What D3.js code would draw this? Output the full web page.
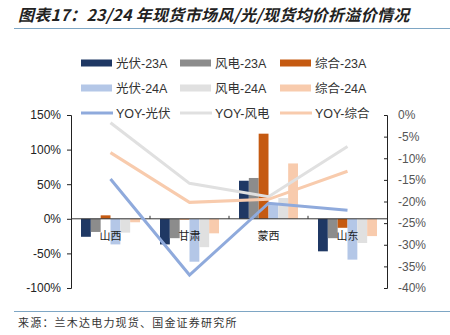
<!DOCTYPE html>
<html>
<head>
<meta charset="utf-8">
<style>
  body { margin: 0; background: #fff; }
  text { font-family: "Liberation Sans", Arial, "Noto Sans CJK SC", sans-serif; }
  .cjk { font-family: "Noto Sans CJK SC", sans-serif; }
</style>
</head>
<body>
<svg id="svg" width="450" height="335"></svg>
<script src="https://cdnjs.cloudflare.com/ajax/libs/d3/7.8.5/d3.min.js"></script>
<script>
// regions on the category axis
const regions = ['山西', '甘肃', '蒙西', '山东']

// bar series (left axis, %)
const barSeries = ['光伏-23A', '风电-23A', '综合-23A', '光伏-24A', '风电-24A', '综合-24A']
const pv23 = [-26, -37, 55, -47]
const wind23 = [-19, -28, 59, -28]
const mix23 = [5, -1, 123, -13]
const pv24 = [-37, -62, 22, -59]
const wind24 = [-20, -41, 30, -35]
const mix24 = [-5, -21, 80, -25]

// yoy lines (right axis, %)
const lineSeries = ['YOY-光伏', 'YOY-风电', 'YOY-综合']
const yoyPv = [-14.8, -37, -20.4, -22]
const yoyWind = [-1.8, -15.8, -18.9, -7.3]
const yoyMix = [-8.7, -20.2, -19.5, -13]

const leftTicks = [150, 100, 50, 0, -50, -100]
const rightTicks = [0, -5, -10, -15, -20, -25, -30, -35, -40]

const barColors = ['#1f3864', '#8c8c8c', '#c55a11', '#b4c7e7', '#e0e0e0', '#f8cbad']
const lineColors = ['#8faadc', '#e0e0e0', '#f8cbad']

const barData = [pv23, wind23, mix23, pv24, wind24, mix24]
const lineData = [yoyPv, yoyWind, yoyMix]

const svg = d3.select('#svg')

// title + rules
svg.append('text')
  .attr('class', 'cjk')
  .attr('x', 18).attr('y', 21)
  .attr('font-size', 16).attr('font-weight', 'bold').attr('font-style', 'italic')
  .attr('letter-spacing', 0.3)
  .attr('fill', '#222')
  .text('图表17：23/24 年现货市场风/光/现货均价折溢价情况')
svg.append('line').attr('x1', 14).attr('x2', 450).attr('y1', 28.5).attr('y2', 28.5)
  .attr('stroke', '#7ea6c4').attr('stroke-width', 1)
svg.append('line').attr('x1', 14).attr('x2', 450).attr('y1', 311.5).attr('y2', 311.5)
  .attr('stroke', '#7ea6c4').attr('stroke-width', 1)
svg.append('text')
  .attr('class', 'cjk')
  .attr('x', 18).attr('y', 327)
  .attr('font-size', 11).attr('letter-spacing', 1.2).attr('fill', '#333')
  .text('来源：兰木达电力现货、国金证券研究所')

// scales
const x = d3.scaleBand().domain(regions).range([71, 387])
const xs = d3.scaleBand().domain(barSeries).range([10, 69])
const yL = d3.scaleLinear().domain([-100, 150]).range([288, 115])
const yR = d3.scaleLinear().domain([-40, 0]).range([288, 115])

// bars
barSeries.forEach((s, i) => {
  svg.append('g').selectAll('rect')
    .data(barData[i])
    .join('rect')
    .attr('x', (d, j) => x(regions[j]) + xs(s))
    .attr('width', xs.bandwidth())
    .attr('y', d => Math.min(yL(d), yL(0)))
    .attr('height', d => Math.abs(yL(d) - yL(0)))
    .attr('fill', barColors[i])
})

// left axis
const axL = svg.append('g').attr('transform', 'translate(71,0)')
  .call(d3.axisLeft(yL).tickValues(leftTicks).tickSize(4).tickFormat(d => d + '%'))
axL.select('.domain').attr('stroke', '#222')
axL.selectAll('.tick line').attr('stroke', '#222')
axL.selectAll('.tick text').attr('font-size', 12).attr('fill', '#222').attr('x', -10)
  .attr('font-family', '"Liberation Sans", Arial, sans-serif')

// right axis
const axR = svg.append('g').attr('transform', 'translate(387,0)')
  .call(d3.axisRight(yR).tickValues(rightTicks).tickSize(-3).tickFormat(d => d + '%'))
axR.select('.domain').attr('stroke', '#222')
axR.selectAll('.tick line').attr('stroke', '#222')
axR.selectAll('.tick text').attr('font-size', 12).attr('fill', '#555').attr('x', 11)
  .attr('font-family', '"Liberation Sans", Arial, sans-serif')

// category axis at 0
svg.append('line').attr('x1', 71).attr('x2', 387).attr('y1', yL(0)).attr('y2', yL(0))
  .attr('stroke', '#333').attr('stroke-width', 1)
svg.append('g').selectAll('line')
  .data(regions.slice(1))
  .join('line')
  .attr('x1', d => x(d)).attr('x2', d => x(d))
  .attr('y1', yL(0) - 3).attr('y2', yL(0))
  .attr('stroke', '#333')
svg.append('g').selectAll('text')
  .data(regions)
  .join('text')
  .attr('class', 'cjk')
  .attr('x', d => x(d) + x.bandwidth() / 2)
  .attr('y', yL(0) + 21)
  .attr('text-anchor', 'middle')
  .attr('font-size', 11).attr('fill', '#222')
  .text(d => d)

// yoy lines
const line = d3.line()
  .x((d, j) => x(regions[j]) + x.bandwidth() / 2)
  .y(d => yR(d))
lineData.forEach((vals, i) => {
  svg.append('path')
    .datum(vals)
    .attr('d', line)
    .attr('fill', 'none')
    .attr('stroke', lineColors[i])
    .attr('stroke-width', 3)
})

// legend
const legX = [81, 180, 280]
barSeries.forEach((s, i) => {
  const gx = legX[i % 3]
  const gy = i < 3 ? 63 : 88
  svg.append('rect').attr('x', gx).attr('y', gy - 3.5).attr('width', 31).attr('height', 7)
    .attr('fill', barColors[i])
  svg.append('text').attr('x', gx + 35).attr('y', gy + 4.5)
    .attr('font-size', 12.5).attr('fill', '#333').text(s)
})
lineSeries.forEach((s, i) => {
  const gx = legX[i]
  const gy = 113
  svg.append('line').attr('x1', gx).attr('x2', gx + 32).attr('y1', gy).attr('y2', gy)
    .attr('stroke', lineColors[i]).attr('stroke-width', 3)
  svg.append('text').attr('x', gx + 35).attr('y', gy + 4.5)
    .attr('font-size', 12.5).attr('fill', '#333').text(s)
})
</script>
</body>
</html>
